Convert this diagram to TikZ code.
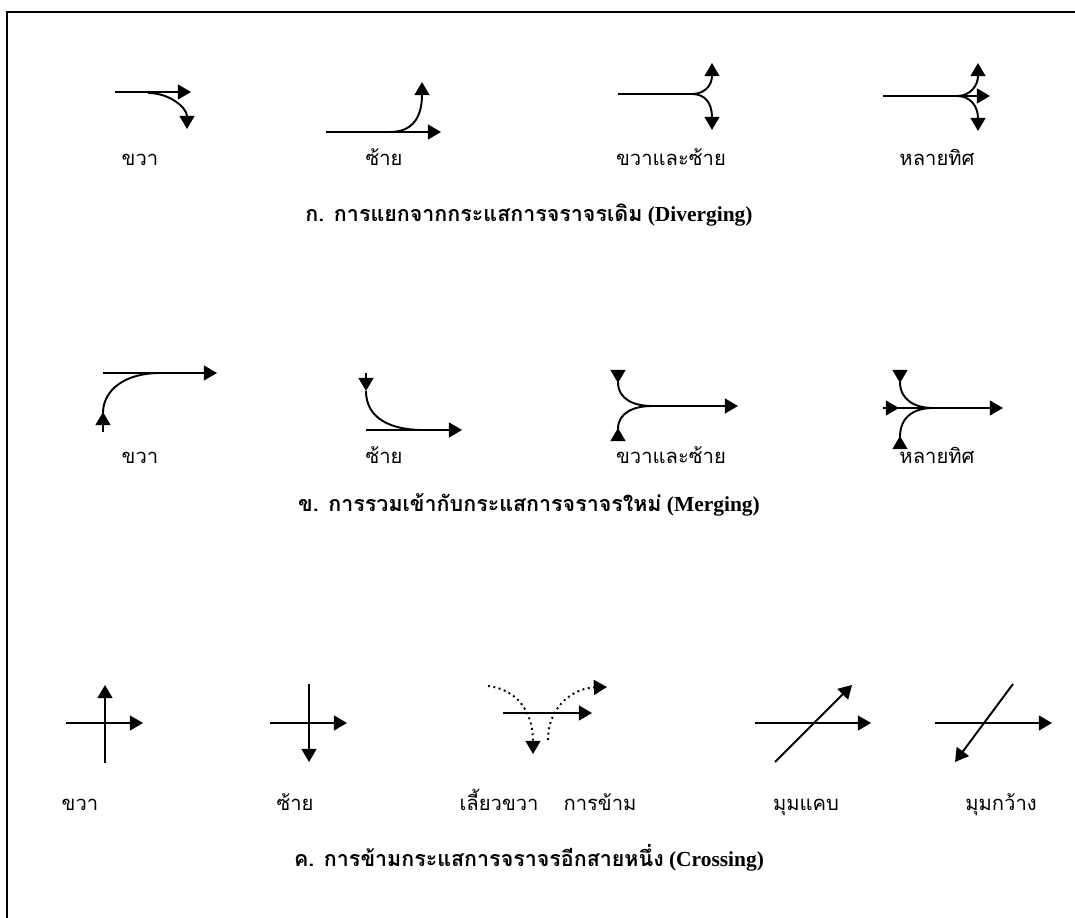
\documentclass[tikz,border=0pt]{standalone}
\usepackage{fontspec}
\setmainfont{Liberation Serif}
\newfontfamily\thaifont[Script=Thai]{Loma}
\usetikzlibrary{arrows.meta}

\begin{document}
\begin{tikzpicture}[
	x=0.02cm, y=-0.02cm,
	flow/.style={ line width=1.1pt, -{Triangle[length=7.5pt,width=8.5pt]} },
	road/.style={ line width=1.1pt },
	dotflow/.style={ line width=1.1pt, dotted, -{Triangle[length=7.5pt,width=8.5pt]} },
	lbl/.style={ font=\thaifont\fontsize{11.5}{13}\selectfont, inner sep=0pt, anchor=base },
	ttl/.style={ font=\bfseries\fontsize{12.2}{14}\selectfont, inner sep=0pt, anchor=base }
]
\useasboundingbox (0,0) rectangle (1075,918);
\draw[line width=0.9pt] (7,918) -- (7,12) -- (1075,12);

% ---- diverging
\draw[flow] (115,92) -- (191,92);
\draw[flow] (148,93) .. controls (170,93) and (187,108) .. (187,129);
\draw[flow] (326,132) -- (441,132);
\draw[flow] (390,132) .. controls (412,132) and (422,118) .. (422,82);
\draw[road] (618,94) -- (692,94);
\draw[flow] (692,94) .. controls (705,94) and (712,85) .. (712,63);
\draw[flow] (692,94) .. controls (705,94) and (712,103) .. (712,130);
\draw[flow] (883,96) -- (990,96);
\draw[flow] (957,96) .. controls (970,96) and (978,86) .. (978,63);
\draw[flow] (957,96) .. controls (970,96) and (978,106) .. (978,131);

\node (d1) at (140,166) [lbl] {ขวา};
\node (d2) at (384,166) [lbl] {ซ้าย};
\node (d3) at (671,166) [lbl] {ขวาและซ้าย};
\node (d4) at (937,166) [lbl] {หลายทิศ};
\node (dt) at (529,222) [ttl] {{\thaifont ก. การแยกจากกระแสการจราจรเดิม} (Diverging)};

% ---- merging
\draw[flow] (103,373) -- (217,373);
\draw[road] (160,373) .. controls (125,373) and (103,390) .. (103,413);
\draw[flow] (103,432) -- (103,412);
\draw[flow] (366,373) -- (366,391);
\draw[road] (366,391) .. controls (366,418) and (390,430) .. (423,430);
\draw[flow] (366,430) -- (462,430);
\draw[flow] (618,374) -- (618,383);
\draw[road] (618,382) .. controls (618,400) and (635,406) .. (652,406);
\draw[flow] (618,438) -- (618,428);
\draw[road] (618,429) .. controls (618,412) and (635,406) .. (652,406);
\draw[flow] (652,406) -- (738,406);
\draw[flow] (900,370) -- (900,383);
\draw[road] (900,382) .. controls (900,400) and (915,408) .. (933,408);
\draw[flow] (900,445) -- (900,436);
\draw[road] (900,437) .. controls (900,416) and (915,408) .. (933,408);
\draw[flow] (883,408) -- (899,408);
\draw[flow] (898,408) -- (1003,408);

\node (m1) at (140,464) [lbl] {ขวา};
\node (m2) at (384,464) [lbl] {ซ้าย};
\node (m3) at (671,464) [lbl] {ขวาและซ้าย};
\node (m4) at (937,464) [lbl] {หลายทิศ};
\node (mt) at (529,512) [ttl] {{\thaifont ข. การรวมเข้ากับกระแสการจราจรใหม่} (Merging)};

% ---- crossing
\draw[flow] (66,723) -- (143,723);
\draw[flow] (105,763) -- (105,685);
\draw[flow] (270,723) -- (347,723);
\draw[flow] (309,684) -- (309,762);
\draw[flow] (503,713) -- (592,713);
\draw[dotflow] (488,686) .. controls (520,690) and (533,715) .. (533,754);
\draw[dotflow] (548,740) .. controls (548,705) and (575,688) .. (607,687);
\draw[flow] (755,723) -- (871,723);
\draw[flow] (775,762) -- (852,685);
\draw[flow] (935,723) -- (1052,723);
\draw[flow] (1013,684) -- (955,762);

\node (c1) at (80,810) [lbl] {ขวา};
\node (c2) at (295,810) [lbl] {ซ้าย};
\node (c3) at (499,810) [lbl] {เลี้ยวขวา};
\node (c4) at (600,810) [lbl] {การข้าม};
\node (c5) at (806,810) [lbl] {มุมแคบ};
\node (c6) at (1001,810) [lbl] {มุมกว้าง};
\node (ct) at (529,866) [ttl] {{\thaifont ค. การข้ามกระแสการจราจรอีกสายหนึ่ง} (Crossing)};

\end{tikzpicture}
\end{document}
